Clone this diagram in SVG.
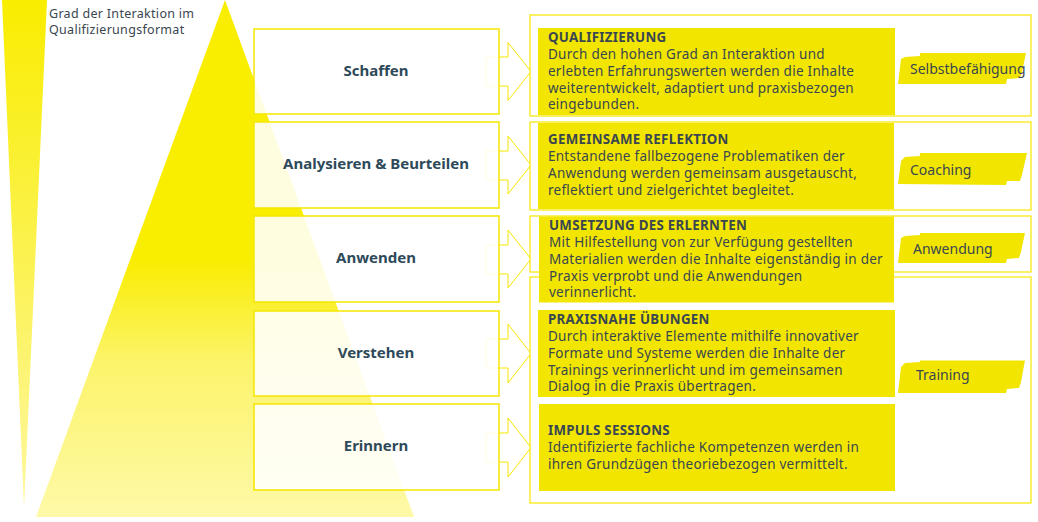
<svg xmlns="http://www.w3.org/2000/svg" width="1038" height="522" viewBox="0 0 1038 522">
<defs>
<linearGradient id="gTri" x1="0" y1="0" x2="0" y2="1">
<stop offset="0" stop-color="#f9ed00"/>
<stop offset="0.5" stop-color="#f9ed00"/>
<stop offset="0.7" stop-color="#fcf46a"/>
<stop offset="1" stop-color="#fef9a8"/>
</linearGradient>
<linearGradient id="gWedge" x1="0" y1="0" x2="0" y2="1">
<stop offset="0" stop-color="#f9ed00"/>
<stop offset="1" stop-color="#fdf7a0"/>
</linearGradient>
<style>
.lbox{fill:#ffffff;fill-opacity:0.88;stroke:#f5e600;stroke-width:1.5}
.arrow{fill:#ffffff;stroke:#f5e600;stroke-width:1}
.rbox{fill:#ffffff;stroke:#f5e600;stroke-width:1.2}
.ybox{fill:#f2e600}
.brush{fill:#f2e600}
.lt{font-family:"Noto Sans","DejaVu Sans",sans-serif;font-weight:bold;font-size:15px;fill:#2e4a5a;text-anchor:middle}
.tt{font-family:"Noto Sans","DejaVu Sans",sans-serif;font-weight:bold;font-size:13.3px;letter-spacing:0.3px;fill:#3a4650}
.bt{font-family:"Noto Sans","DejaVu Sans",sans-serif;font-size:13.5px;letter-spacing:0.26px;fill:#3a4650}
.ct{font-family:"Noto Sans","DejaVu Sans",sans-serif;font-size:14px;fill:#3a4650}
.hd{font-family:"Noto Sans","DejaVu Sans",sans-serif;font-size:12.5px;fill:#3a4650;letter-spacing:0.3px}
</style>
</defs>

<g id="background">
<polygon points="2,0 47,0 24,508" fill="url(#gWedge)"/>
<polygon points="225,0 414,517 36,517" fill="url(#gTri)"/>
<text class="hd" x="49" y="18">Grad der Interaktion im</text>
<text class="hd" x="49" y="34">Qualifizierungsformat</text>
</g>

<g id="connectors">
<polygon class="arrow" points="486,57 508,57 508,42.5 531,71.5 508,100.5 508,86 486,86"/>
<polygon class="arrow" points="486,151 508,151 508,136 531,165 508,194 508,180 486,180"/>
<polygon class="arrow" points="486,245 508,245 508,230 531,259 508,288 508,274 486,274"/>
<polygon class="arrow" points="486,339 508,339 508,324 531,353.5 508,383 508,368 486,368"/>
<polygon class="arrow" points="486,433 508,433 508,418 531,447.5 508,477 508,462 486,462"/>
</g>

<g id="node-schaffen">
<rect class="lbox" x="254" y="29" width="245" height="85"/>
<text class="lt" x="376" y="76">Schaffen</text>
</g>
<g id="node-analysieren">
<rect class="lbox" x="254" y="122" width="245" height="86"/>
<text class="lt" x="376" y="169">Analysieren &amp; Beurteilen</text>
</g>
<g id="node-anwenden">
<rect class="lbox" x="254" y="216" width="245" height="86"/>
<text class="lt" x="376" y="263">Anwenden</text>
</g>
<g id="node-verstehen">
<rect class="lbox" x="254" y="311" width="245" height="85"/>
<text class="lt" x="376" y="357.5">Verstehen</text>
</g>
<g id="node-erinnern">
<rect class="lbox" x="254" y="404" width="245" height="86"/>
<text class="lt" x="376" y="450.5">Erinnern</text>
</g>

<g id="group-selbstbefaehigung">
<rect class="rbox" x="530" y="15" width="501" height="101"/>
<polygon class="brush" points="901,59 905,57 920,56 920,53 1026,53 1022,72 1020,78 1007,79 1006,84 898,84"/>
<text class="ct" x="910" y="74">Selbstbefähigung</text>
</g>
<g id="group-coaching">
<rect class="rbox" x="530" y="122" width="501" height="88"/>
<polygon class="brush" points="901,161 905,157 920,156 920,153 1027,153 1022,175 1020,181 1007,181 1006,185 898,184"/>
<text class="ct" x="910" y="175">Coaching</text>
</g>
<g id="group-anwendung">
<rect class="rbox" x="530" y="216" width="501" height="56"/>
<polygon class="brush" points="901,238 905,236 920,235 920,233 1025,233 1021,252 1019,258 1007,259 1006,263 898,263"/>
<text class="ct" x="913" y="254">Anwendung</text>
</g>
<g id="group-training">
<rect class="rbox" x="530" y="277" width="501" height="226"/>
<polygon class="brush" points="901,367 905,363 920,362 920,360.5 1025,360.5 1021,382 1019,388 1007,389 1006,393 898,393"/>
<text class="ct" x="916" y="380">Training</text>
</g>

<g id="node-qualifizierung">
<rect class="ybox" x="538" y="28" width="357" height="87"/>
<text class="tt" x="548" y="42">QUALIFIZIERUNG</text>
<text class="bt" x="548" y="59">Durch den hohen Grad an Interaktion und</text>
<text class="bt" x="548" y="76">erlebten Erfahrungswerten werden die Inhalte</text>
<text class="bt" x="548" y="92.5">weiterentwickelt, adaptiert und praxisbezogen</text>
<text class="bt" x="548" y="109">eingebunden.</text>
</g>
<g id="node-reflektion">
<rect class="ybox" x="538" y="123" width="356" height="86"/>
<text class="tt" x="548" y="144">GEMEINSAME REFLEKTION</text>
<text class="bt" x="548" y="161">Entstandene fallbezogene Problematiken der</text>
<text class="bt" x="548" y="178">Anwendung werden gemeinsam ausgetauscht,</text>
<text class="bt" x="548" y="194.5">reflektiert und zielgerichtet begleitet.</text>
</g>
<g id="node-umsetzung">
<rect class="ybox" x="539" y="216.5" width="355" height="86"/>
<text class="tt" x="549" y="230">UMSETZUNG DES ERLERNTEN</text>
<text class="bt" x="549" y="247">Mit Hilfestellung von zur Verfügung gestellten</text>
<text class="bt" x="549" y="264">Materialien werden die Inhalte eigenständig in der</text>
<text class="bt" x="549" y="280.5">Praxis verprobt und die Anwendungen</text>
<text class="bt" x="549" y="297">verinnerlicht.</text>
</g>
<g id="node-praxisnahe">
<rect class="ybox" x="538" y="310" width="357" height="87"/>
<text class="tt" x="548" y="324">PRAXISNAHE ÜBUNGEN</text>
<text class="bt" x="548" y="341">Durch interaktive Elemente mithilfe innovativer</text>
<text class="bt" x="548" y="357.5">Formate und Systeme werden die Inhalte der</text>
<text class="bt" x="548" y="374.5">Trainings verinnerlicht und im gemeinsamen</text>
<text class="bt" x="548" y="391">Dialog in die Praxis übertragen.</text>
</g>
<g id="node-impuls">
<rect class="ybox" x="539" y="404" width="356" height="87"/>
<text class="tt" x="548" y="435">IMPULS SESSIONS</text>
<text class="bt" x="548" y="451.5">Identifizierte fachliche Kompetenzen werden in</text>
<text class="bt" x="548" y="468.5">ihren Grundzügen theoriebezogen vermittelt.</text>
</g>
</svg>
